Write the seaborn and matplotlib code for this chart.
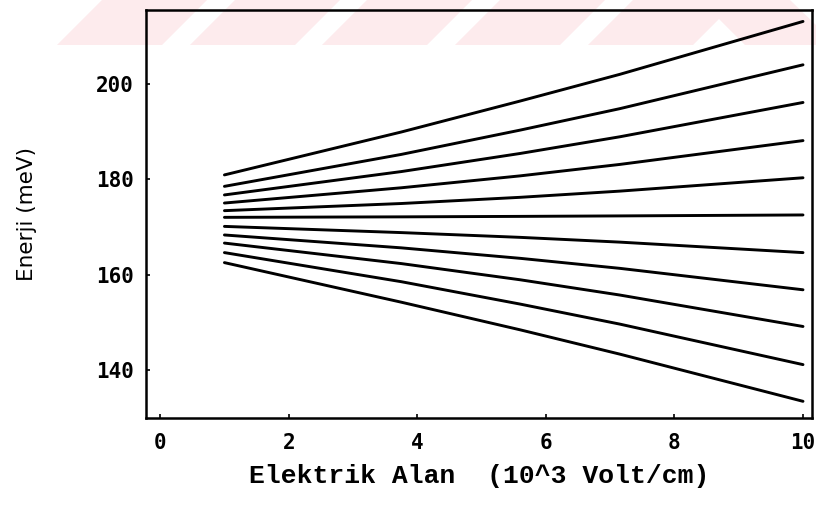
import matplotlib
matplotlib.use("Agg")
import matplotlib.pyplot as plt
from matplotlib.patches import Polygon
import pandas as pd
import seaborn as sns

# Electric field samples (10^3 V/cm)
field = [1.0, 3.75, 5.6, 7.15, 10.0]

# Energy levels (meV) at each field sample, top level first
level_01 = [180.9, 189.9, 196.4, 202.0, 213.1]
level_02 = [178.5, 185.2, 190.3, 194.8, 204.0]
level_03 = [176.7, 181.6, 185.4, 188.9, 196.1]
level_04 = [175.0, 178.2, 180.7, 183.1, 188.1]
level_05 = [173.4, 174.9, 176.2, 177.5, 180.3]
level_06 = [172.0, 172.1, 172.2, 172.3, 172.5]
level_07 = [170.1, 168.8, 167.8, 166.8, 164.6]
level_08 = [168.3, 165.6, 163.4, 161.3, 156.8]
level_09 = [166.6, 162.3, 158.9, 155.7, 149.1]
level_10 = [164.6, 158.5, 153.8, 149.6, 141.1]
level_11 = [162.5, 154.2, 148.4, 143.3, 133.4]

levels = [level_01, level_02, level_03, level_04, level_05, level_06,
          level_07, level_08, level_09, level_10, level_11]

x_ticks = [0, 2, 4, 6, 8, 10]
y_ticks = [140, 160, 180, 200]

rows = []
for i, lv in enumerate(levels):
    for f, e in zip(field, lv):
        rows.append({"field": f, "energy": e, "level": i})
df = pd.DataFrame(rows)

sns.set_theme(style="white")
plt.rcParams["font.family"] = ["DejaVu Sans"]

fig = plt.figure(figsize=(8.16, 5.08), dpi=100)

# faint diagonal banding across the top edge of the page
W, H = 816.0, 508.0
band_top, band_bot = 0.0, 45.0
for x0 in [57, 190, 322, 455, 588]:
    pts = [(x0, band_bot), (x0 + 105, band_bot), (x0 + 150, band_top), (x0 + 45, band_top)]
    fig.add_artist(Polygon([(px / W, 1 - py / H) for px, py in pts],
                           closed=True, transform=fig.transFigure,
                           facecolor="#fdebed", edgecolor="none", zorder=0))
pts = [(700, band_top), (790, band_top), (816, 25), (816, band_bot), (745, band_bot)]
fig.add_artist(Polygon([(px / W, 1 - py / H) for px, py in pts],
                       closed=True, transform=fig.transFigure,
                       facecolor="#fdebed", edgecolor="none", zorder=0))

ax = fig.add_axes([146 / W, 1 - 418 / H, (812 - 146) / W, (418 - 10) / H])
ax.patch.set_alpha(0)

sns.lineplot(data=df, x="field", y="energy", hue="level",
             palette=["black"] * len(levels), estimator=None,
             linewidth=2.1, legend=False, ax=ax)

ax.set_xlim(-0.22, 10.14)
ax.set_ylim(129.9, 215.5)
ax.set_xticks(x_ticks)
ax.set_yticks(y_ticks)
ax.set_xticklabels([str(t) for t in x_ticks])
ax.set_yticklabels([str(t) for t in y_ticks])

for lab in ax.get_xticklabels() + ax.get_yticklabels():
    lab.set_fontfamily("DejaVu Sans Mono")
    lab.set_fontweight("bold")
    lab.set_fontsize(15)
    lab.set_color("black")

ax.tick_params(axis="both", direction="in", length=3, width=1.2,
               colors="black", bottom=True, left=True)
ax.tick_params(axis="x", pad=11)
ax.tick_params(axis="y", pad=9)

for sp in ax.spines.values():
    sp.set_visible(True)
    sp.set_color("black")
    sp.set_linewidth(1.8)

ax.set_xlabel("Elektrik Alan  (10^3 Volt/cm)", family="Liberation Mono",
              weight="bold", size=19, color="black", labelpad=8)
ax.set_ylabel("Enerji (meV)", family="DejaVu Sans", size=15.5,
              color="black", labelpad=42)

fig.savefig("out.png", dpi=100)
